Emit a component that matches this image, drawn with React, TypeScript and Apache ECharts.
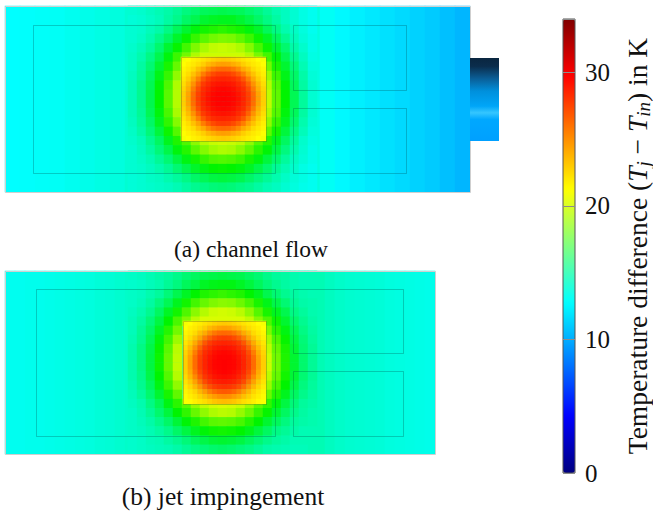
import React, { useEffect, useRef } from "react";
import * as echarts from "echarts";

const _ = null;

// colour bar range (temperature difference, K)
const T_MIN = 0;
const T_MAX = 34;
const TICK_STEP = 10;

// ---------- (a) channel flow ----------
// background strips, left -> right
const bgA = [12.75, 12.8, 12.85, 12.9, 13.0, 13.1, 13.2, 13.3, 13.5, 13.7, 13.8, 13.9, 14.0, 14.0, 14.0, 14.0, 14.0, 13.9, 13.8, 13.6, 13.3, 12.9, 12.55, 12.25, 12.0, 11.75, 11.5, 11.25, 11.0, 10.65, 10.3];
// field around the heat source, rows top -> bottom
const ringA = [
  [13.5, 13.6, 13.8, 14.0, 14.2, 14.5, 14.9, 15.2, 15.5, 15.6, 15.7, 15.6, 15.5, 15.2, 14.9, 14.5, 14.1, 13.8, 13.5, 13.2, 13.0],
  [13.4, 13.5, 13.7, 13.9, 14.3, 14.7, 15.3, 15.7, 16.2, 16.4, 16.5, 16.5, 16.2, 15.8, 15.3, 14.8, 14.3, 13.8, 13.5, 13.2, 13.0],
  [13.5, 13.6, 13.9, 14.2, 14.8, 15.5, 16.2, 16.8, 17.3, 17.5, 17.7, 17.5, 17.3, 16.8, 16.3, 15.5, 14.8, 14.1, 13.7, 13.3, 13.0],
  [13.5, 13.7, 14.1, 14.7, 15.4, 16.3, 17.1, 17.9, 18.5, 18.9, 19.1, 19.0, 18.6, 18.0, 17.2, 16.4, 15.5, 14.6, 13.9, 13.4, 13.1],
  [13.6, 13.9, 14.4, 15.2, 16.2, 17.1, 18.1, 19.1, 19.8, 20.2, 20.3, 20.2, 19.9, 19.2, 18.2, 17.2, 16.2, 15.2, 14.2, 13.6, 13.1],
  [13.7, 14.1, 14.8, 15.7, 16.8, 18.0, 18.9, 19.9, 20.4, 20.4, 20.4, 20.4, 20.4, 20.0, 19.0, 18.1, 16.9, 15.7, 14.6, 13.8, 13.2],
  [13.7, 14.3, 15.1, 16.2, 17.4, 18.7, _, _, _, _, _, _, _, _, _, 18.9, 17.4, 16.2, 15.0, 14.0, 13.3],
  [13.8, 14.4, 15.4, 16.6, 17.9, 19.4, _, _, _, _, _, _, _, _, _, 19.6, 18.0, 16.6, 15.3, 14.2, 13.4],
  [13.9, 14.6, 15.6, 16.9, 18.3, 19.9, _, _, _, _, _, _, _, _, _, 20.0, 18.4, 16.9, 15.5, 14.3, 13.5],
  [13.9, 14.6, 15.7, 17.0, 18.5, 20.0, _, _, _, _, _, _, _, _, _, 20.2, 18.6, 17.0, 15.6, 14.4, 13.5],
  [13.9, 14.6, 15.7, 17.0, 18.5, 20.0, _, _, _, _, _, _, _, _, _, 20.2, 18.6, 17.0, 15.6, 14.4, 13.5],
  [13.9, 14.5, 15.6, 16.8, 18.2, 19.8, _, _, _, _, _, _, _, _, _, 19.9, 18.4, 16.8, 15.5, 14.3, 13.5],
  [13.8, 14.4, 15.3, 16.5, 17.8, 19.2, _, _, _, _, _, _, _, _, _, 19.4, 17.9, 16.5, 15.2, 14.1, 13.4],
  [13.7, 14.2, 15.0, 16.0, 17.2, 18.4, _, _, _, _, _, _, _, _, _, 18.6, 17.3, 16.0, 14.8, 13.9, 13.3],
  [13.6, 13.9, 14.6, 15.4, 16.5, 17.5, 18.3, 19.3, 20.0, 20.3, 20.4, 20.3, 20.1, 19.4, 18.4, 17.6, 16.5, 15.4, 14.4, 13.6, 13.2],
  [13.5, 13.8, 14.3, 15.0, 15.8, 16.8, 17.6, 18.5, 19.2, 19.7, 19.9, 19.8, 19.3, 18.6, 17.7, 16.9, 15.9, 14.9, 14.1, 13.5, 13.1],
  [13.5, 13.7, 14.0, 14.5, 15.1, 15.9, 16.7, 17.3, 17.9, 18.3, 18.4, 18.3, 18.0, 17.4, 16.8, 16.0, 15.2, 14.4, 13.8, 13.4, 13.1],
  [13.5, 13.6, 13.8, 14.1, 14.5, 15.1, 15.7, 16.3, 16.7, 17.0, 17.1, 17.0, 16.8, 16.4, 15.8, 15.2, 14.5, 14.0, 13.6, 13.2, 13.0],
  [13.4, 13.5, 13.7, 13.8, 14.1, 14.4, 14.8, 15.3, 15.6, 15.9, 16.0, 15.9, 15.7, 15.3, 14.9, 14.5, 14.1, 13.7, 13.4, 13.2, 13.0],
  [13.4, 13.5, 13.6, 13.7, 13.8, 14.0, 14.3, 14.6, 14.8, 15.0, 15.1, 15.0, 14.8, 14.6, 14.3, 14.0, 13.8, 13.5, 13.3, 13.1, 13.0],
];
// heat source (chip), rows top -> bottom
const chipA = [
  [21.1, 21.3, 21.7, 21.9, 22.2, 22.5, 22.8, 23.0, 23.1, 23.0, 22.8, 22.5, 22.2, 21.9, 21.7, 21.3, 21.1],
  [21.3, 21.7, 22.0, 22.4, 22.9, 23.6, 24.0, 24.4, 24.5, 24.4, 24.0, 23.6, 22.9, 22.4, 22.0, 21.7, 21.3],
  [21.6, 22.0, 22.5, 23.4, 24.1, 25.1, 25.8, 26.2, 26.3, 26.2, 25.8, 25.1, 24.1, 23.4, 22.5, 22.0, 21.6],
  [21.8, 22.4, 23.3, 24.3, 25.6, 26.6, 27.3, 27.7, 27.8, 27.7, 27.3, 26.6, 25.6, 24.3, 23.3, 22.4, 21.8],
  [22.1, 22.9, 24.1, 25.5, 26.9, 27.8, 28.3, 28.5, 28.6, 28.5, 28.3, 27.8, 26.9, 25.5, 24.1, 22.9, 22.1],
  [22.4, 23.5, 24.9, 26.5, 27.8, 28.4, 28.9, 29.1, 29.2, 29.1, 28.9, 28.4, 27.8, 26.5, 24.9, 23.5, 22.4],
  [22.7, 23.9, 25.6, 27.2, 28.3, 28.8, 29.3, 29.5, 29.6, 29.5, 29.3, 28.8, 28.3, 27.2, 25.6, 23.9, 22.7],
  [22.9, 24.3, 26.1, 27.6, 28.5, 29.1, 29.5, 29.7, 29.7, 29.7, 29.5, 29.1, 28.5, 27.6, 26.1, 24.3, 22.9],
  [22.9, 24.4, 26.2, 27.7, 28.6, 29.2, 29.6, 29.7, 29.8, 29.7, 29.6, 29.2, 28.6, 27.7, 26.2, 24.4, 22.9],
  [22.9, 24.3, 26.1, 27.6, 28.5, 29.1, 29.5, 29.7, 29.7, 29.7, 29.5, 29.1, 28.5, 27.6, 26.1, 24.3, 22.9],
  [22.7, 23.9, 25.6, 27.2, 28.3, 28.8, 29.3, 29.5, 29.6, 29.5, 29.3, 28.8, 28.3, 27.2, 25.6, 23.9, 22.7],
  [22.4, 23.5, 24.9, 26.5, 27.8, 28.4, 28.9, 29.1, 29.2, 29.1, 28.9, 28.4, 27.8, 26.5, 24.9, 23.5, 22.4],
  [22.1, 22.9, 24.1, 25.5, 26.9, 27.8, 28.3, 28.5, 28.6, 28.5, 28.3, 27.8, 26.9, 25.5, 24.1, 22.9, 22.1],
  [21.8, 22.4, 23.3, 24.3, 25.6, 26.6, 27.3, 27.7, 27.8, 27.7, 27.3, 26.6, 25.6, 24.3, 23.3, 22.4, 21.8],
  [21.6, 22.0, 22.5, 23.4, 24.1, 25.1, 25.8, 26.2, 26.3, 26.2, 25.8, 25.1, 24.1, 23.4, 22.5, 22.0, 21.6],
  [21.3, 21.7, 22.0, 22.4, 22.9, 23.6, 24.0, 24.4, 24.5, 24.4, 24.0, 23.6, 22.9, 22.4, 22.0, 21.7, 21.3],
  [21.1, 21.3, 21.7, 21.9, 22.2, 22.5, 22.8, 23.0, 23.1, 23.0, 22.8, 22.5, 22.2, 21.9, 21.7, 21.3, 21.1],
];

// ---------- (b) jet impingement ----------
const bgB = [13.0, 13.0, 13.05, 13.05, 13.1, 13.15, 13.2, 13.25, 13.3, 13.4, 13.45, 13.55, 13.65, 13.7, 13.8, 13.8, 13.8, 13.8, 13.8, 13.8, 13.8, 13.8, 13.8, 13.8, 13.8, 13.8, 13.8, 13.8, 13.8, 13.8, 13.8, 14.0, 13.8, 13.65, 13.55, 13.5, 13.45, 13.4, 13.3, 13.25, 13.2, 13.15, 13.1];
const ringB = [
  [13.7, 13.8, 14.0, 14.2, 14.4, 14.7, 15.1, 15.4, 15.7, 15.8, 15.9, 15.8, 15.7, 15.4, 15.1, 14.7, 14.4, 14.3, 14.1, 14.0, 14.0],
  [13.6, 13.7, 13.9, 14.1, 14.5, 14.9, 15.5, 15.9, 16.4, 16.6, 16.7, 16.7, 16.4, 16.0, 15.5, 15.0, 14.6, 14.3, 14.1, 14.0, 14.0],
  [13.7, 13.8, 14.1, 14.4, 15.0, 15.7, 16.4, 17.0, 17.5, 17.7, 17.9, 17.7, 17.5, 17.0, 16.5, 15.7, 15.1, 14.6, 14.3, 14.1, 14.0],
  [13.7, 13.9, 14.3, 14.9, 15.6, 16.5, 17.3, 18.1, 18.7, 19.1, 19.3, 19.2, 18.8, 18.2, 17.4, 16.6, 15.8, 15.1, 14.5, 14.2, 14.1],
  [13.8, 14.1, 14.6, 15.4, 16.4, 17.3, 18.3, 19.3, 20.0, 20.4, 20.5, 20.4, 20.1, 19.4, 18.4, 17.4, 16.5, 15.7, 14.8, 14.4, 14.1],
  [13.9, 14.3, 15.0, 15.9, 17.0, 18.2, 19.1, 20.1, 20.6, 20.6, 20.6, 20.6, 20.6, 20.2, 19.2, 18.3, 17.2, 16.2, 15.2, 14.6, 14.2],
  [13.9, 14.5, 15.3, 16.4, 17.6, 18.9, _, _, _, _, _, _, _, _, _, 19.1, 17.7, 16.7, 15.6, 14.8, 14.3],
  [14.0, 14.6, 15.6, 16.8, 18.1, 19.6, _, _, _, _, _, _, _, _, _, 19.8, 18.3, 17.1, 15.9, 15.0, 14.4],
  [14.1, 14.8, 15.8, 17.1, 18.5, 20.1, _, _, _, _, _, _, _, _, _, 20.2, 18.7, 17.4, 16.1, 15.1, 14.5],
  [14.1, 14.8, 15.9, 17.2, 18.7, 20.2, _, _, _, _, _, _, _, _, _, 20.4, 18.9, 17.5, 16.2, 15.2, 14.5],
  [14.1, 14.8, 15.9, 17.2, 18.7, 20.2, _, _, _, _, _, _, _, _, _, 20.4, 18.9, 17.5, 16.2, 15.2, 14.5],
  [14.1, 14.7, 15.8, 17.0, 18.4, 20.0, _, _, _, _, _, _, _, _, _, 20.1, 18.7, 17.3, 16.1, 15.1, 14.5],
  [14.0, 14.6, 15.5, 16.7, 18.0, 19.4, _, _, _, _, _, _, _, _, _, 19.6, 18.2, 17.0, 15.8, 14.9, 14.4],
  [13.9, 14.4, 15.2, 16.2, 17.4, 18.6, _, _, _, _, _, _, _, _, _, 18.8, 17.6, 16.5, 15.4, 14.7, 14.3],
  [13.8, 14.1, 14.8, 15.6, 16.7, 17.7, 18.5, 19.5, 20.2, 20.5, 20.6, 20.5, 20.3, 19.6, 18.6, 17.8, 16.8, 15.9, 15.0, 14.4, 14.2],
  [13.7, 14.0, 14.5, 15.2, 16.0, 17.0, 17.8, 18.7, 19.4, 19.9, 20.1, 20.0, 19.5, 18.8, 17.9, 17.1, 16.2, 15.4, 14.7, 14.3, 14.1],
  [13.7, 13.9, 14.2, 14.7, 15.3, 16.1, 16.9, 17.5, 18.1, 18.5, 18.6, 18.5, 18.2, 17.6, 17.0, 16.2, 15.5, 14.9, 14.4, 14.2, 14.1],
  [13.7, 13.8, 14.0, 14.3, 14.7, 15.3, 15.9, 16.5, 16.9, 17.2, 17.3, 17.2, 17.0, 16.6, 16.0, 15.4, 14.8, 14.5, 14.2, 14.0, 14.0],
  [13.6, 13.7, 13.9, 14.0, 14.3, 14.6, 15.0, 15.5, 15.8, 16.1, 16.2, 16.1, 15.9, 15.5, 15.1, 14.7, 14.4, 14.2, 14.0, 14.0, 14.0],
  [13.6, 13.7, 13.8, 13.9, 14.0, 14.2, 14.5, 14.8, 15.0, 15.2, 15.3, 15.2, 15.0, 14.8, 14.5, 14.2, 14.1, 14.0, 13.9, 13.9, 14.0],
];
const chipB = [
  [21.1, 21.3, 21.7, 21.9, 22.2, 22.5, 22.8, 23.0, 23.1, 23.0, 22.8, 22.5, 22.2, 21.9, 21.7, 21.3, 21.1],
  [21.3, 21.7, 22.0, 22.4, 22.9, 23.6, 24.0, 24.4, 24.5, 24.4, 24.0, 23.6, 22.9, 22.4, 22.0, 21.7, 21.3],
  [21.6, 22.0, 22.5, 23.4, 24.1, 25.1, 25.8, 26.2, 26.3, 26.2, 25.8, 25.1, 24.1, 23.4, 22.5, 22.0, 21.6],
  [21.8, 22.4, 23.3, 24.3, 25.6, 26.6, 27.3, 27.7, 27.8, 27.7, 27.3, 26.6, 25.6, 24.3, 23.3, 22.4, 21.8],
  [22.1, 22.9, 24.1, 25.5, 26.9, 27.8, 28.3, 28.5, 28.6, 28.5, 28.3, 27.8, 26.9, 25.5, 24.1, 22.9, 22.1],
  [22.4, 23.5, 24.9, 26.5, 27.8, 28.4, 28.9, 29.1, 29.2, 29.1, 28.9, 28.4, 27.8, 26.5, 24.9, 23.5, 22.4],
  [22.7, 23.9, 25.6, 27.2, 28.3, 28.8, 29.3, 29.5, 29.6, 29.5, 29.3, 28.8, 28.3, 27.2, 25.6, 23.9, 22.7],
  [22.9, 24.3, 26.1, 27.6, 28.5, 29.1, 29.5, 29.7, 29.7, 29.7, 29.5, 29.1, 28.5, 27.6, 26.1, 24.3, 22.9],
  [22.9, 24.4, 26.2, 27.7, 28.6, 29.2, 29.6, 29.7, 29.8, 29.7, 29.6, 29.2, 28.6, 27.7, 26.2, 24.4, 22.9],
  [22.9, 24.4, 26.2, 27.7, 28.6, 29.2, 29.6, 29.7, 29.8, 29.7, 29.6, 29.2, 28.6, 27.7, 26.2, 24.4, 22.9],
  [22.8, 24.1, 25.9, 27.4, 28.4, 29.0, 29.4, 29.6, 29.7, 29.6, 29.4, 29.0, 28.4, 27.4, 25.9, 24.1, 22.8],
  [22.5, 23.7, 25.2, 26.8, 28.0, 28.6, 29.1, 29.3, 29.4, 29.3, 29.1, 28.6, 28.0, 26.8, 25.2, 23.7, 22.5],
  [22.2, 23.1, 24.4, 25.9, 27.3, 28.1, 28.6, 28.8, 28.9, 28.8, 28.6, 28.1, 27.3, 25.9, 24.4, 23.1, 22.2],
  [21.9, 22.6, 23.6, 24.8, 26.1, 27.1, 27.7, 28.0, 28.1, 28.0, 27.7, 27.1, 26.1, 24.8, 23.6, 22.6, 21.9],
  [21.6, 22.1, 22.7, 23.7, 24.6, 25.6, 26.3, 26.7, 26.8, 26.7, 26.3, 25.6, 24.6, 23.7, 22.7, 22.1, 21.6],
  [21.4, 21.8, 22.2, 22.8, 23.4, 24.1, 24.6, 25.0, 25.1, 25.0, 24.6, 24.1, 23.4, 22.8, 22.2, 21.8, 21.4],
  [21.2, 21.4, 21.8, 22.1, 22.4, 22.8, 23.2, 23.4, 23.5, 23.4, 23.2, 22.8, 22.4, 22.1, 21.8, 21.4, 21.2],
];

const captionA = "(a) channel flow";
const captionB = "(b) jet impingement";

// ---------- styles / layout ----------
const FIELD_COLORS = ["#000080", "#0000ff", "#0080ff", "#00ffff", "#00f400", "#ffff00", "#ff8000", "#ff0000", "#800000"];
const JET_COLORS = ["#000080", "#0000ff", "#0080ff", "#00ffff", "#80ff80", "#ffff00", "#ff8000", "#ff0000", "#800000"];
const SERIF = "Liberation Serif";

const GRIDS = [
  { left: 5, top: 6, width: 465, height: 186 },
  { left: 128, top: 6, width: 189, height: 186 },
  { left: 181, top: 57, width: 85, height: 84 },
  { left: 5, top: 271, width: 430, height: 183 },
  { left: 128, top: 271, width: 189, height: 183 },
  { left: 183, top: 321, width: 83, height: 83 },
];
const BAR = { left: 563, top: 19, width: 12, height: 454 };

const OUTLINE = "rgba(0,50,50,0.25)";
const BOXES = [
  { x: 5, y: 6, w: 465, h: 186, c: "#cfcfcf" },
  { x: 33, y: 25, w: 242, h: 148, c: OUTLINE },
  { x: 181, y: 57, w: 85, h: 84, c: OUTLINE },
  { x: 293, y: 25, w: 113, h: 65, c: OUTLINE },
  { x: 293, y: 108, w: 113, h: 65, c: OUTLINE },
  { x: 5, y: 271, w: 430, h: 183, c: "#cfcfcf" },
  { x: 36, y: 289, w: 239, h: 147, c: OUTLINE },
  { x: 183, y: 321, w: 83, h: 83, c: OUTLINE },
  { x: 293, y: 289, w: 110, h: 64, c: OUTLINE },
  { x: 293, y: 371, w: 110, h: 65, c: OUTLINE },
];

function toCells(rows: (number | null)[][]) {
  const out: number[][] = [];
  rows.forEach((row, j) =>
    row.forEach((v, i) => {
      if (v !== null) out.push([i, j, v]);
    })
  );
  return out;
}

const FIELDS = [[bgA], ringA, chipA, [bgB], ringB, chipB];

function buildOption() {
  const grid: any[] = GRIDS.map((g) => ({ ...g, show: false, containLabel: false, outerBoundsMode: "none" }));
  grid.push({
    ...BAR,
    show: true,
    backgroundColor: "transparent",
    borderColor: "#555",
    borderWidth: 1,
    z: 10,
    containLabel: false,
    outerBoundsMode: "none",
  });

  const xAxis: any[] = FIELDS.map((rows, gi) => ({
    gridIndex: gi,
    type: "category",
    show: false,
    data: rows[0].map((_v, i) => String(i)),
  }));
  xAxis.push({ gridIndex: 6, type: "value", show: false, min: 0, max: 1 });

  const yAxis: any[] = FIELDS.map((rows, gi) => ({
    gridIndex: gi,
    type: "category",
    show: false,
    inverse: true,
    data: rows.map((_r, j) => String(j)),
  }));
  yAxis.push({
    gridIndex: 6,
    type: "value",
    min: T_MIN,
    max: T_MAX,
    interval: TICK_STEP,
    position: "right",
    z: 10,
    axisLine: { show: false },
    axisTick: { show: false },
    splitLine: { show: true, lineStyle: { color: "#8c8c8c", width: 1 } },
    axisLabel: {
      fontSize: 25,
      fontFamily: SERIF,
      color: "#111",
      margin: 10,
      showMaxLabel: false,
      showMinLabel: true,
    },
    name: "{n|Temperature difference (}{it|T}{sub|j}{n| − }{it|T}{sub|in}{n|) in K}",
    nameLocation: "middle",
    nameRotate: 90,
    nameGap: 47,
    nameTextStyle: {
      color: "#111",
      fontFamily: SERIF,
      fontSize: 27.5,
      rich: {
        n: { fontFamily: SERIF, fontSize: 27.5, color: "#111", lineHeight: 31 },
        it: { fontFamily: SERIF, fontSize: 27.5, fontStyle: "italic", color: "#111", lineHeight: 31 },
        sub: { fontFamily: SERIF, fontSize: 19, fontStyle: "italic", color: "#111", lineHeight: 19, verticalAlign: "bottom" },
      },
    },
  });

  const series: any[] = FIELDS.map((rows, gi) => ({
    type: "heatmap",
    xAxisIndex: gi,
    yAxisIndex: gi,
    data: toCells(rows as (number | null)[][]),
    silent: true,
    progressive: 0,
    itemStyle: { borderWidth: 0 },
    emphasis: { disabled: true },
  }));
  series.push({ type: "scatter", xAxisIndex: 6, yAxisIndex: 6, data: [], silent: true });

  const graphic: any[] = BOXES.map((b) => ({
    type: "rect",
    z: 100,
    silent: true,
    shape: { x: b.x + 0.5, y: b.y + 0.5, width: b.w, height: b.h },
    style: { fill: "none", stroke: b.c, lineWidth: 1 },
  }));
  graphic.push({
    type: "rect",
    z: 100,
    silent: true,
    shape: { x: 470, y: 58, width: 29, height: 83 },
    style: {
      fill: {
        type: "linear",
        x: 0,
        y: 0,
        x2: 0,
        y2: 1,
        colorStops: [
          { offset: 0, color: "#0a2640" },
          { offset: 0.1, color: "#0b2d4c" },
          { offset: 0.25, color: "#0a5f98" },
          { offset: 0.4, color: "#0090dc" },
          { offset: 0.58, color: "#00a6f8" },
          { offset: 0.66, color: "#35c6ff" },
          { offset: 0.74, color: "#00a8ff" },
          { offset: 1, color: "#00a0ff" },
        ],
      },
    },
  });
  graphic.push({
    type: "text",
    z: 100,
    silent: true,
    style: {
      text: captionA,
      x: 251,
      y: 248.5,
      fill: "#111",
      fontSize: 23.5,
      fontFamily: SERIF,
      align: "center",
      verticalAlign: "middle",
    },
  });
  graphic.push({
    type: "text",
    z: 100,
    silent: true,
    style: {
      text: captionB,
      x: 223,
      y: 496.5,
      fill: "#111",
      fontSize: 25.5,
      fontFamily: SERIF,
      align: "center",
      verticalAlign: "middle",
    },
  });

  return {
    animation: false,
    backgroundColor: "#ffffff",
    textStyle: { fontFamily: SERIF },
    grid,
    xAxis,
    yAxis,
    visualMap: [
      {
        type: "continuous",
        show: false,
        seriesIndex: [0, 1, 2, 3, 4, 5],
        min: T_MIN,
        max: T_MAX,
        inRange: { color: FIELD_COLORS },
      },
      {
        type: "continuous",
        show: true,
        seriesIndex: [6],
        min: T_MIN,
        max: T_MAX,
        orient: "vertical",
        left: BAR.left,
        top: BAR.top,
        itemWidth: BAR.width,
        itemHeight: BAR.height,
        padding: 0,
        calculable: false,
        hoverLink: false,
        inRange: { color: JET_COLORS },
        textStyle: { fontSize: 1, color: "transparent" },
      },
    ],
    series,
    graphic,
  };
}

export default function App() {
  const ref = useRef<HTMLDivElement>(null);
  useEffect(() => {
    document.body.style.margin = "0";
    const chart = echarts.init(ref.current as HTMLDivElement, null, { renderer: "svg" });
    chart.setOption(buildOption() as any);
    return () => chart.dispose();
  }, []);
  return <div ref={ref} style={{ width: 653, height: 517 }} />;
}
